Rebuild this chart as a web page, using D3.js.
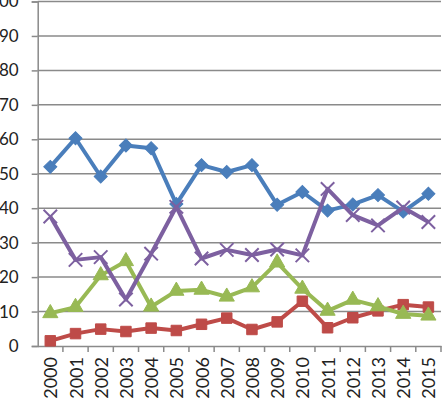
<!DOCTYPE html>
<html>
<head>
<meta charset="utf-8">
<script src="https://cdn.jsdelivr.net/npm/d3@7"></script>
<style>
  body { margin: 0; background: #fff; }
  text { font-family: Lato, "Open Sans", sans-serif; fill: #222; }
</style>
</head>
<body>
<div id="dataviz"></div>
<script>
var years = ["2000","2001","2002","2003","2004","2005","2006","2007","2008","2009","2010","2011","2012","2013","2014","2015"];
var blueValues = [52, 60.3, 49.2, 58.2, 57.4, 41.2, 52.5, 50.5, 52.5, 41, 44.7, 39.3, 41.1, 43.8, 39, 44.2];
var redValues = [1.5, 3.6, 4.9, 4.2, 5.2, 4.5, 6.3, 8.1, 4.8, 7, 13, 5.3, 8.2, 10.2, 12, 11.3];
var greenValues = [9.5, 11.3, 20.5, 24.6, 11.4, 16, 16.3, 14.3, 17, 24.2, 16.6, 10.2, 13.4, 11.5, 9.3, 8.8];
var purpleValues = [37.6, 25, 25.8, 13.5, 26.8, 40.4, 25.4, 27.9, 26.4, 28, 26.3, 45.6, 38, 35, 40.2, 36];
var yTicks = [0, 10, 20, 30, 40, 50, 60, 70, 80, 90, 100];

var series = [
  {name: "blue", values: blueValues, color: "#4a7ebb", symbol: d3.symbolSquare, size: 85, rotate: 45},
  {name: "red", values: redValues, color: "#be4b48", symbol: d3.symbolSquare, size: 110, rotate: 0},
  {name: "green", values: greenValues, color: "#98b954", symbol: d3.symbolTriangle, size: 100, rotate: 0},
  {name: "purple", values: purpleValues, color: "#7d60a0", symbol: d3.symbolTimes, size: 120, rotate: 0}
];

var width = 442, height = 399;
// plot edges (top is reserved in browsers, so use plot* names)
var plotLeft = 37.7, plotRight = 441, plotTop = 1.5, plotBottom = 346;

var svg = d3.select("#dataviz")
  .append("svg")
    .attr("width", width)
    .attr("height", height);

var x = d3.scaleBand()
  .domain(years)
  .range([plotLeft, plotRight])
  .padding(0);

var y = d3.scaleLinear()
  .domain([0, 100])
  .range([plotBottom, plotTop]);

// gridlines
svg.append("g")
  .selectAll("line")
  .data(yTicks.slice(1))
  .enter()
  .append("line")
    .attr("x1", plotLeft)
    .attr("x2", plotRight)
    .attr("y1", function(d) { return y(d); })
    .attr("y2", function(d) { return y(d); })
    .attr("stroke", "#8a8a8a")
    .style("stroke-width", "1.5px");

// y axis
svg.append("g")
  .attr("transform", "translate(" + plotLeft + ",0)")
  .call(d3.axisLeft(y).tickValues(yTicks).tickSize(6).tickPadding(13))
  .call(function(g) {
    g.selectAll("line").attr("stroke", "#8a8a8a").style("stroke-width", "1.5px");
    g.select(".domain").attr("stroke", "#8a8a8a").style("stroke-width", "1.5px");
    g.selectAll("text").style("font-size", "17px").attr("fill", "#222");
  });

// x axis
svg.append("g")
  .attr("transform", "translate(0," + plotBottom + ")")
  .call(d3.axisBottom(x).tickSize(0).tickPadding(0))
  .call(function(g) {
    g.select(".domain").attr("stroke", "#8a8a8a").style("stroke-width", "1.5px");
    g.selectAll("text")
      .style("font-size", "18px")
      .attr("fill", "#222")
      .attr("y", 0)
      .attr("dy", null)
      .attr("transform", "translate(0,11) rotate(-90)")
      .attr("dominant-baseline", "central")
      .style("text-anchor", "end");
  });

// category boundary ticks
svg.append("g")
  .selectAll("line")
  .data(years)
  .enter()
  .append("line")
    .attr("x1", function(d) { return x(d) + x.bandwidth(); })
    .attr("x2", function(d) { return x(d) + x.bandwidth(); })
    .attr("y1", plotBottom)
    .attr("y2", plotBottom + 6)
    .attr("stroke", "#8a8a8a")
    .style("stroke-width", "1.5px");

var line = d3.line()
  .x(function(d, i) { return x(years[i]) + x.bandwidth() / 2; })
  .y(function(d) { return y(d); });

series.forEach(function(s) {
  var g = svg.append("g");
  g.append("path")
    .datum(s.values)
    .attr("d", line)
    .attr("fill", "none")
    .attr("stroke", s.color)
    .style("stroke-width", "4px")
    .attr("stroke-linejoin", "round");

  g.selectAll("path.marker")
    .data(s.values)
    .enter()
    .append("path")
      .classed("marker", true)
      .attr("transform", function(d, i) {
        return "translate(" + (x(years[i]) + x.bandwidth() / 2) + "," + y(d) + ") rotate(" + s.rotate + ")";
      })
      .attr("d", d3.symbol().type(s.symbol).size(s.size))
      .attr("fill", s.symbol === d3.symbolTimes ? "none" : s.color)
      .attr("stroke", s.color)
      .style("stroke-width", s.symbol === d3.symbolTimes ? "2px" : "1px");
});
</script>
</body>
</html>
